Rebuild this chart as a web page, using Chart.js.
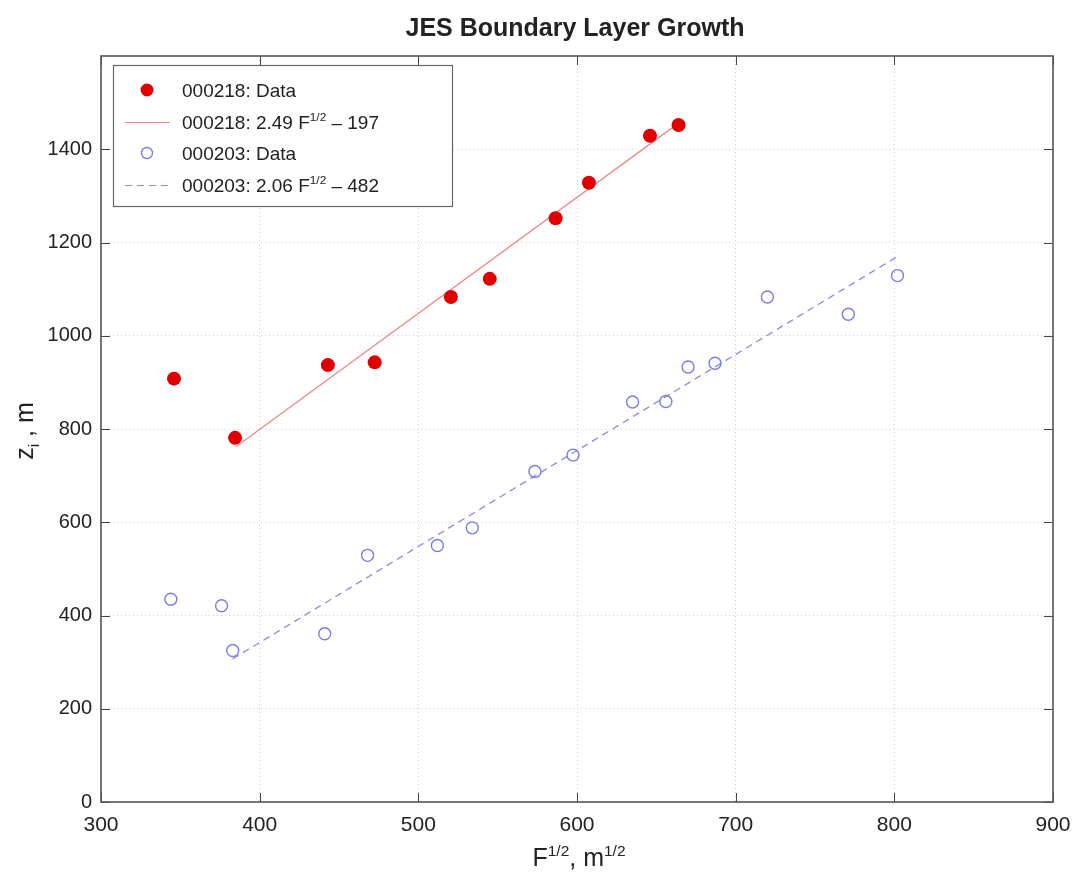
<!DOCTYPE html>
<html lang="en">
<head>
    <meta charset="UTF-8">
    <title>JES Boundary Layer Growth</title>
    <script src="https://cdn.jsdelivr.net/npm/chart.js"></script>
    <style>
        body { margin: 0; background: #fff; }
        canvas { display: block; }
    </style>
</head>
<body>
    <canvas id="myChart" width="1078" height="888"></canvas>
</body>
</html>
<script>
    // 000218 - pontos medidos
    var redX = [346, 384.5, 443, 472.5, 520.5, 545, 586.5, 607.5, 646, 664];
    var redY = [908, 781, 937, 943, 1083, 1122, 1252, 1328, 1429, 1452];
    // 000203 - pontos medidos
    var blueX = [344, 376, 383, 441, 468, 512, 534, 573.5, 597.5, 635, 656, 670, 687, 720, 771, 802];
    var blueY = [435, 421, 325, 361, 529, 550, 588, 709, 744, 858, 859, 933, 941, 1083, 1046, 1129];
    // retas ajustadas (extremos)
    var redFitX = [385, 664];
    var redFitY = [762, 1456];
    var blueFitX = [383, 802];
    var blueFitY = [307, 1170];

    var xTicks = [300, 400, 500, 600, 700, 800, 900];
    var yTicks = [0, 200, 400, 600, 800, 1000, 1200, 1400];

    var FONT = '"Liberation Sans", Arial, Helvetica, sans-serif';

    function pares(xs, ys) {
        var out = [];
        for (var i = 0; i < xs.length; i++) out.push({ x: xs[i], y: ys[i] });
        return out;
    }

    // escreve texto com sobrescrito / subscrito
    function textoRico(ctx, partes, x, y, size, align) {
        var total = 0;
        partes.forEach(function (p) {
            var s = p.sup || p.sub ? size * 0.62 : size;
            ctx.font = s + 'px ' + FONT;
            p.w = ctx.measureText(p.t).width;
            p.s = s;
            total += p.w;
        });
        var cx = align == 'center' ? x - total / 2 : x;
        ctx.textBaseline = 'alphabetic';
        ctx.textAlign = 'left';
        partes.forEach(function (p) {
            ctx.font = p.s + 'px ' + FONT;
            var dy = p.sup ? -size * 0.42 : (p.sub ? size * 0.25 : 0);
            ctx.fillText(p.t, cx, y + dy);
            cx += p.w;
        });
    }

    var moldura = {
        id: 'moldura',
        afterDraw: function (chart) {
            var ctx = chart.ctx;
            var a = chart.chartArea;
            var sx = chart.scales.x, sy = chart.scales.y;
            ctx.save();

            // ticks para dentro
            ctx.strokeStyle = '#444';
            ctx.lineWidth = 1;
            ctx.beginPath();
            xTicks.forEach(function (v) {
                var px = Math.round(sx.getPixelForValue(v)) + 0.5;
                ctx.moveTo(px, a.bottom); ctx.lineTo(px, a.bottom - 9);
                ctx.moveTo(px, a.top); ctx.lineTo(px, a.top + 9);
            });
            yTicks.forEach(function (v) {
                var py = Math.round(sy.getPixelForValue(v)) + 0.5;
                ctx.moveTo(a.left, py); ctx.lineTo(a.left + 9, py);
                ctx.moveTo(a.right, py); ctx.lineTo(a.right - 9, py);
            });
            ctx.stroke();

            // caixa
            ctx.strokeStyle = '#555';
            ctx.lineWidth = 1.6;
            ctx.strokeRect(a.left, a.top, a.right - a.left, a.bottom - a.top);

            // titulo
            ctx.fillStyle = '#222';
            ctx.font = 'bold 25px ' + FONT;
            ctx.textAlign = 'center';
            ctx.textBaseline = 'alphabetic';
            ctx.fillText('JES Boundary Layer Growth', 575, 36);

            // eixo x
            textoRico(ctx, [{ t: 'F' }, { t: '1/2', sup: true }, { t: ', m' }, { t: '1/2', sup: true }],
                (a.left + a.right) / 2 + 2, 866, 25, 'center');

            // eixo y
            ctx.save();
            ctx.translate(33, 431);
            ctx.rotate(-Math.PI / 2);
            textoRico(ctx, [{ t: 'z' }, { t: 'i', sub: true }, { t: ' , m' }], 0, 0, 25, 'center');
            ctx.restore();

            // legenda
            var lx = 113, ly = 65, lw = 339, lh = 141;
            ctx.fillStyle = '#fff';
            ctx.fillRect(lx, ly, lw, lh);
            ctx.strokeStyle = '#666';
            ctx.lineWidth = 1.2;
            ctx.strokeRect(lx + 0.5, ly + 0.5, lw, lh);

            var rows = [90, 122, 153, 185];
            ctx.fillStyle = '#e00000';
            ctx.beginPath();
            ctx.arc(147, rows[0], 6.5, 0, Math.PI * 2);
            ctx.fill();

            ctx.strokeStyle = '#f08a8a';
            ctx.lineWidth = 1.2;
            ctx.beginPath();
            ctx.moveTo(125, rows[1] + 0.5); ctx.lineTo(170, rows[1] + 0.5);
            ctx.stroke();

            ctx.strokeStyle = '#7c7ce0';
            ctx.lineWidth = 1.4;
            ctx.beginPath();
            ctx.arc(147, rows[2], 5.5, 0, Math.PI * 2);
            ctx.stroke();

            ctx.strokeStyle = '#8a8ae0';
            ctx.lineWidth = 1.2;
            ctx.setLineDash([7, 5]);
            ctx.beginPath();
            ctx.moveTo(125, rows[3] + 0.5); ctx.lineTo(172, rows[3] + 0.5);
            ctx.stroke();
            ctx.setLineDash([]);

            ctx.fillStyle = '#222';
            var tb = 7;
            textoRico(ctx, [{ t: '000218: Data' }], 182, rows[0] + tb, 19, 'left');
            textoRico(ctx, [{ t: '000218: 2.49 F' }, { t: '1/2', sup: true }, { t: ' \u2013 197' }], 182, rows[1] + tb, 19, 'left');
            textoRico(ctx, [{ t: '000203: Data' }], 182, rows[2] + tb, 19, 'left');
            textoRico(ctx, [{ t: '000203: 2.06 F' }, { t: '1/2', sup: true }, { t: ' \u2013 482' }], 182, rows[3] + tb, 19, 'left');

            ctx.restore();
        }
    };

    var dados = {
        datasets: [{
            label: '000218: Data',
            data: pares(redX, redY),
            pointRadius: 7,
            pointBackgroundColor: '#e00000',
            pointBorderColor: '#e00000',
            pointBorderWidth: 0,
            showLine: false
        }, {
            label: '000218: fit',
            data: pares(redFitX, redFitY),
            showLine: true,
            pointRadius: 0,
            borderColor: '#f08a8a',
            borderWidth: 1.3
        }, {
            label: '000203: Data',
            data: pares(blueX, blueY),
            pointRadius: 6,
            pointBackgroundColor: 'rgba(0,0,0,0)',
            pointBorderColor: '#7c7ce0',
            pointBorderWidth: 1.4,
            showLine: false
        }, {
            label: '000203: fit',
            data: pares(blueFitX, blueFitY),
            showLine: true,
            pointRadius: 0,
            borderColor: '#8a8ae0',
            borderWidth: 1.3,
            borderDash: [7, 5]
        }]
    };

    var config = {
        type: 'scatter',
        data: dados,
        options: {
            responsive: false,
            animation: false,
            devicePixelRatio: 1,
            layout: { padding: { top: 56, right: 25, left: 0, bottom: 0 } },
            plugins: {
                legend: { display: false },
                title: { display: false },
                tooltip: { enabled: false }
            },
            scales: {
                x: {
                    type: 'linear',
                    min: 300,
                    max: 900,
                    afterBuildTicks: function (s) { s.ticks = xTicks.map(function (v) { return { value: v }; }); },
                    afterFit: function (s) { s.height = 86; s.paddingLeft = 0; s.paddingRight = 0; },
                    grid: { color: '#cfcfcf', drawTicks: false, tickLength: 0 },
                    border: { display: false, dash: [1, 3] },
                    ticks: { padding: 11, color: '#222', font: { family: FONT, size: 21 }, maxRotation: 0,
                        callback: function (v) { return String(v); } }
                },
                y: {
                    type: 'linear',
                    min: 0,
                    max: 1600,
                    afterBuildTicks: function (s) { s.ticks = yTicks.map(function (v) { return { value: v }; }); },
                    afterFit: function (s) { s.width = 101; s.paddingTop = 0; s.paddingBottom = 0; },
                    grid: { color: '#cfcfcf', drawTicks: false, tickLength: 0 },
                    border: { display: false, dash: [1, 3] },
                    ticks: { padding: 9, color: '#222', font: { family: FONT, size: 20 },
                        callback: function (v) { return String(v); } }
                }
            }
        },
        plugins: [moldura]
    };

    var myChart = new Chart(document.getElementById('myChart'), config);
</script>
